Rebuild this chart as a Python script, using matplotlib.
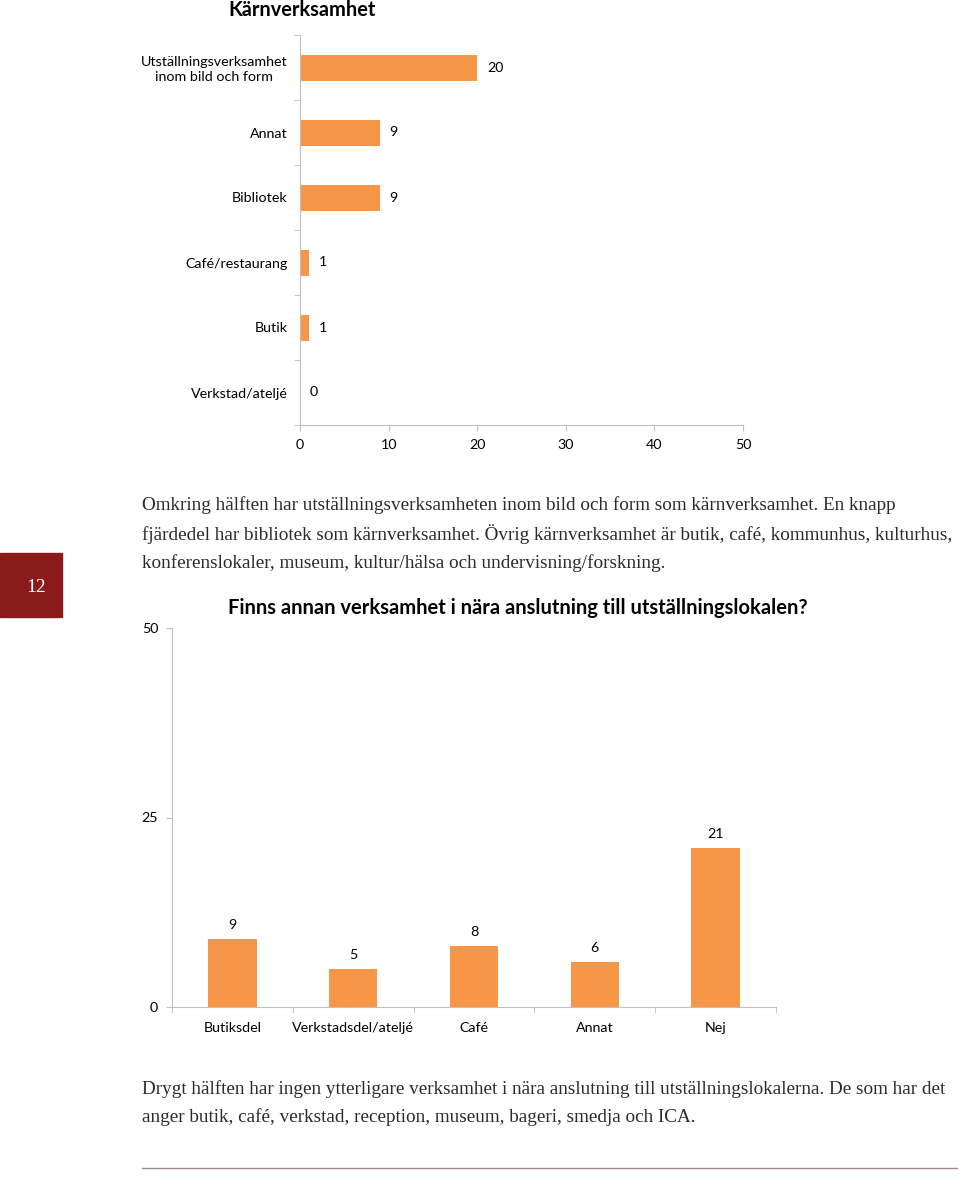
import matplotlib
matplotlib.use("Agg")
import matplotlib.pyplot as plt
from matplotlib.patches import Rectangle
from matplotlib.lines import Line2D

# top chart: core activity
core_labels = ['Utställningsverksamhet\ninom bild och form', 'Annat', 'Bibliotek',
               'Café/restaurang', 'Butik', 'Verkstad/ateljé']
core_values = [20, 9, 9, 1, 1, 0]
core_ticks = [0, 10, 20, 30, 40, 50]

# bottom chart: other activity nearby
other_labels = ['Butiksdel', 'Verkstadsdel/ateljé', 'Café', 'Annat', 'Nej']
other_values = [9, 5, 8, 6, 21]
other_ticks = [0, 25, 50]

text1 = ['Omkring hälften har utställningsverksamheten inom bild och form som kärnverksamhet. En knapp',
         'fjärdedel har bibliotek som kärnverksamhet. Övrig kärnverksamhet är butik, café, kommunhus, kulturhus,',
         'konferenslokaler, museum, kultur/hälsa och undervisning/forskning.']
text2 = ['Drygt hälften har ingen ytterligare verksamhet i nära anslutning till utställningslokalerna. De som har det',
         'anger butik, café, verkstad, reception, museum, bageri, smedja och ICA.']

W, H = 960, 1177
ORANGE = '#F79646'
GRID = '#BFBFBF'
SANS = ['Lato', 'DejaVu Sans']
SERIF = ['Liberation Serif', 'DejaVu Serif']

fig = plt.figure(figsize=(W / 100, H / 100), dpi=100)


def px_axes(x0, y0, x1, y1):
    return fig.add_axes((x0 / W, 1 - y1 / H, (x1 - x0) / W, (y1 - y0) / H))


def ftext(x, y, s, **kw):
    fig.text(x / W, 1 - y / H, s, **kw)


# ---- top chart
ax = px_axes(300, 35, 743, 425)
ypos = list(range(len(core_values)))
ax.barh(ypos, core_values, height=0.4, color=ORANGE)
ax.set_xlim(0, 50)
ax.set_ylim(len(core_values) - 0.5, -0.5)
ax.set_xticks(core_ticks)
ax.set_xticklabels([str(t) for t in core_ticks], family=SANS, fontsize=10.3)
ax.set_yticks(ypos)
ax.set_yticklabels(core_labels, family=SANS, fontsize=10.3, linespacing=1.25,
                   multialignment='center')
ax.set_yticks([i - 0.5 for i in range(len(core_values) + 1)], minor=True)
ax.tick_params(axis='y', which='major', length=0, pad=9)
ax.tick_params(axis='y', which='minor', length=4, color=GRID)
ax.tick_params(axis='x', length=4, color=GRID, pad=6)
for s in ['top', 'right']:
    ax.spines[s].set_visible(False)
for s in ['left', 'bottom']:
    ax.spines[s].set_color(GRID)
for y, v in zip(ypos, core_values):
    ax.annotate(str(v), (v, y), xytext=(7, 0), textcoords='offset points',
                va='center', ha='left', family=SANS, fontsize=10.3)

ftext(302, 10, 'Kärnverksamhet', family=SANS, fontsize=14.4, fontweight='bold',
      ha='center', va='center')

# ---- body text 1
for i, line in enumerate(text1):
    ftext(142, 505 + i * 29, line, family=SERIF, fontsize=13.75, color='#2b2b2b',
          va='center', ha='left')

# page number box
fig.patches.append(Rectangle((0, 1 - 617 / H), 62 / W, 64 / H, transform=fig.transFigure,
                             color='#8B1A1A'))
ftext(36, 587, '12', family=SERIF, fontsize=14, color='white', ha='center', va='center')

# ---- bottom chart
ax2 = px_axes(172, 628, 776, 1007)
xpos = list(range(len(other_values)))
ax2.bar(xpos, other_values, width=0.4, color=ORANGE)
ax2.set_ylim(0, 50)
ax2.set_xlim(-0.5, len(other_values) - 0.5)
ax2.set_yticks(other_ticks)
ax2.set_yticklabels([str(t) for t in other_ticks], family=SANS, fontsize=10.3)
ax2.set_xticks(xpos)
ax2.set_xticklabels(other_labels, family=SANS, fontsize=10.3)
ax2.set_xticks([i - 0.5 for i in range(len(other_values) + 1)], minor=True)
ax2.tick_params(axis='x', which='major', length=0, pad=11)
ax2.tick_params(axis='x', which='minor', length=4, color=GRID)
ax2.tick_params(axis='y', length=4, color=GRID, pad=6)
for s in ['top', 'right']:
    ax2.spines[s].set_visible(False)
for s in ['left', 'bottom']:
    ax2.spines[s].set_color(GRID)
for x, v in zip(xpos, other_values):
    ax2.annotate(str(v), (x, v), xytext=(0, 10), textcoords='offset points',
                 ha='center', va='center', family=SANS, fontsize=10.3)

ftext(518, 608, 'Finns annan verksamhet i nära anslutning till utställningslokalen?',
      family=SANS, fontsize=14.5, fontweight='bold', ha='center', va='center')

# ---- body text 2
for i, line in enumerate(text2):
    ftext(142, 1089 + i * 28, line, family=SERIF, fontsize=13.75, color='#2b2b2b',
          va='center', ha='left')

fig.lines.append(Line2D([142 / W, 957 / W], [1 - 1168 / H, 1 - 1168 / H],
                        transform=fig.transFigure, color='#A08890', lw=1))

fig.savefig('out.png', dpi=100)
